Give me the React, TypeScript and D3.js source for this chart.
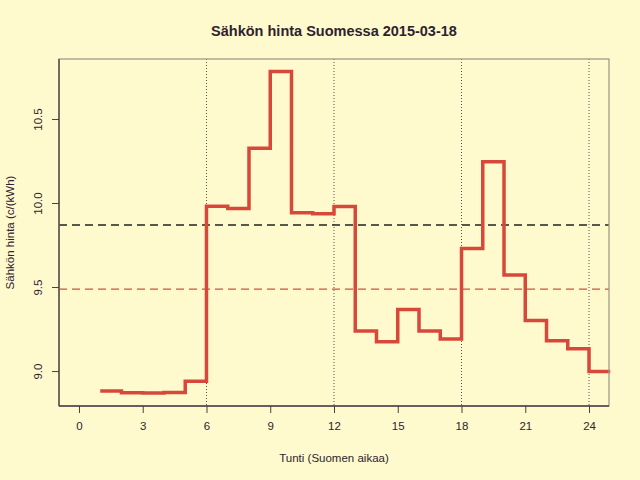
import { useEffect, useRef } from "react";
import * as d3 from "d3";

const hours = [1, 2, 3, 4, 5, 6, 7, 8, 9, 10, 11, 12, 13, 14, 15, 16, 17, 18, 19, 20, 21, 22, 23, 24];
const prices = [
  8.882, 8.871, 8.870, 8.873, 8.940, 9.980, 9.968, 10.326, 10.782, 9.942, 9.936, 9.979,
  9.238, 9.174, 9.367, 9.238, 9.190, 9.730, 10.246, 9.571, 9.301, 9.181, 9.133, 8.998,
];
const meanPrice = 9.869;
const refPrice = 9.488;
const xTicks = [0, 3, 6, 9, 12, 15, 18, 21, 24];
const yTicks = [9.0, 9.5, 10.0, 10.5];
const dayMarks = [6, 12, 18, 24];

const W = 640;
const H = 480;
const BOX = { left: 59, right: 609, top: 59, bottom: 406 };
const BG = "#fffacd";
const INK = "#2e2230";
const FONT = "'Liberation Sans', Arial, sans-serif";

const App = () => {
  const svgRef = useRef<SVGSVGElement | null>(null);

  useEffect(() => {
    if (!svgRef.current) return;
    const svg = d3.select(svgRef.current);
    svg.selectAll("*").remove();

    const x = d3.scaleLinear().domain([-0.94, 24.94]).range([BOX.left, BOX.right]);
    const y = d3.scaleLinear().domain([8.792, 10.857]).range([BOX.bottom, BOX.top]);

    svg.append("rect").attr("width", W).attr("height", H).attr("fill", BG);

    svg.append("defs")
      .append("clipPath")
      .attr("id", "plot-clip")
      .append("rect")
      .attr("x", BOX.left)
      .attr("y", BOX.top)
      .attr("width", BOX.right - BOX.left + 2)
      .attr("height", BOX.bottom - BOX.top);

    // dotted markers every 6 hours
    svg.selectAll(".day-mark")
      .data(dayMarks)
      .join("line")
      .attr("x1", (d) => x(d))
      .attr("x2", (d) => x(d))
      .attr("y1", BOX.top)
      .attr("y2", BOX.bottom)
      .attr("stroke", "#555")
      .attr("stroke-width", 1)
      .attr("stroke-dasharray", "1,2");

    // reference lines
    svg.append("line")
      .attr("x1", BOX.left)
      .attr("x2", BOX.right)
      .attr("y1", y(meanPrice))
      .attr("y2", y(meanPrice))
      .attr("stroke", "#222")
      .attr("stroke-width", 1.6)
      .attr("stroke-dasharray", "8,5");

    svg.append("line")
      .attr("x1", BOX.left)
      .attr("x2", BOX.right)
      .attr("y1", y(refPrice))
      .attr("y2", y(refPrice))
      .attr("stroke", "#d4503e")
      .attr("stroke-width", 1.2)
      .attr("stroke-dasharray", "8,5");

    // step line: each price holds from hour h to h+1
    const pts: [number, number][] = hours.map((h, i) => [h, prices[i]]);
    pts.push([hours[hours.length - 1] + 1, prices[prices.length - 1]]);
    const line = d3
      .line<[number, number]>()
      .x((d) => x(d[0]))
      .y((d) => y(d[1]))
      .curve(d3.curveStepAfter);

    svg.append("path")
      .attr("d", line(pts))
      .attr("clip-path", "url(#plot-clip)")
      .attr("fill", "none")
      .attr("stroke", "#d7483a")
      .attr("stroke-width", 3.5)
      .attr("stroke-linejoin", "miter")
      .attr("stroke-linecap", "butt");

    // box
    svg.append("rect")
      .attr("x", BOX.left)
      .attr("y", BOX.top)
      .attr("width", BOX.right - BOX.left)
      .attr("height", BOX.bottom - BOX.top)
      .attr("fill", "none")
      .attr("stroke", "#a39c84")
      .attr("stroke-width", 1.3);

    // x axis
    const gx = svg.append("g").attr("transform", `translate(0, ${BOX.bottom})`);
    gx.call(d3.axisBottom(x).tickValues(xTicks).tickSize(7).tickPadding(9).tickFormat(d3.format("d")));
    gx.select(".domain").attr("d", `M${BOX.left},0H${BOX.right}`).attr("stroke", "#4a3f45").attr("stroke-width", 1.3);
    gx.selectAll(".tick line").attr("stroke", "#4a3f45");
    gx.selectAll("text").attr("fill", INK).attr("font-size", 11.5).attr("font-family", FONT);

    // y axis
    const gy = svg.append("g").attr("transform", `translate(${BOX.left}, 0)`);
    gy.call(d3.axisLeft(y).tickValues(yTicks).tickSize(7).tickFormat(d3.format(".1f")));
    gy.select(".domain").attr("d", `M0,${BOX.top}V${BOX.bottom}`).attr("stroke", "#4a3f45").attr("stroke-width", 1.3);
    gy.selectAll(".tick line").attr("stroke", "#4a3f45");
    gy.selectAll(".tick text")
      .attr("fill", INK)
      .attr("font-size", 11.5)
      .attr("font-family", FONT)
      .attr("x", null)
      .attr("dy", null)
      .attr("text-anchor", "middle")
      .attr("transform", "translate(-17,0) rotate(-90)");

    // titles
    svg.append("text")
      .attr("x", 334)
      .attr("y", 36)
      .attr("text-anchor", "middle")
      .attr("font-family", FONT)
      .attr("font-weight", "bold")
      .attr("font-size", 14.5)
      .attr("fill", INK)
      .text("Sähkön hinta Suomessa 2015-03-18");

    svg.append("text")
      .attr("x", 334)
      .attr("y", 462)
      .attr("text-anchor", "middle")
      .attr("font-family", FONT)
      .attr("font-size", 11.5)
      .attr("fill", INK)
      .text("Tunti (Suomen aikaa)");

    svg.append("text")
      .attr("transform", `translate(14, ${(BOX.top + BOX.bottom) / 2}) rotate(-90)`)
      .attr("text-anchor", "middle")
      .attr("font-family", FONT)
      .attr("font-size", 11.5)
      .attr("fill", INK)
      .text("Sähkön hinta (c/(kWh)");
  }, []);

  return (
    <svg
      ref={svgRef}
      width={W}
      height={H}
      style={{ display: "block", position: "absolute", left: 0, top: 0 }}
    />
  );
};

export default App;
